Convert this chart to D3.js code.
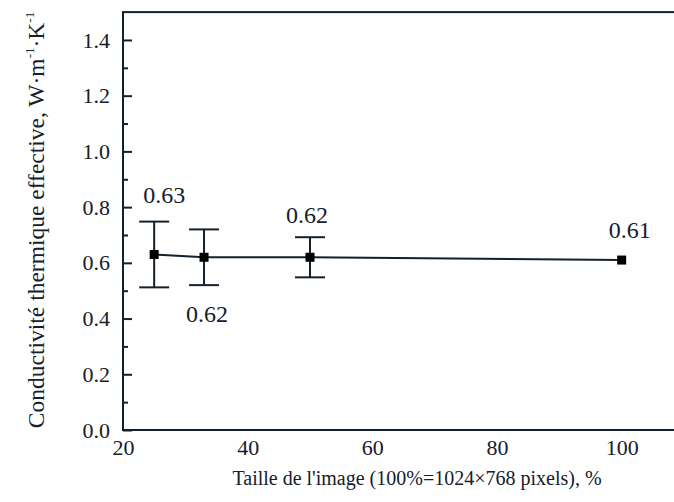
<!DOCTYPE html>
<html>
<head>
<meta charset="utf-8">
<script src="https://cdn.jsdelivr.net/npm/d3@7"></script>
<style>
  html, body { margin: 0; padding: 0; background: #fff; }
  svg { display: block; }
</style>
</head>
<body>
<svg id="chart" width="674" height="502"></svg>
<script>
// Image size (% of 1024×768) and effective thermal conductivity
const sizes = [25, 33, 50, 100];
const conductivity = [0.63, 0.62, 0.62, 0.61];
const errors = [0.118, 0.10, 0.072, 0];
const valueLabels = ["0.63", "0.62", "0.62", "0.61"];
const xTicks = [20, 40, 60, 80, 100];
const yTicks = [0, 0.2, 0.4, 0.6, 0.8, 1.0, 1.2, 1.4];
const yMinorTicks = [0.1, 0.3, 0.5, 0.7, 0.9, 1.1, 1.3];

const ink = "#14202b";
const serif = "'Liberation Serif', 'Times New Roman', serif";
const svg = d3.select("#chart");

const x = d3.scaleLinear().domain([20, 110]).range([123, 684]);
const y = d3.scaleLinear().domain([0, 1.5]).range([430, 12.1]);

// frame (right edge falls outside the canvas)
svg.append("rect")
  .attr("x", x(20)).attr("y", y(1.5))
  .attr("width", x(110) - x(20)).attr("height", y(0) - y(1.5))
  .attr("fill", "none").attr("stroke", ink).attr("stroke-width", 2);

// left axis, ticks pointing inward
const yAxis = svg.append("g").attr("transform", `translate(${x(20)},0)`)
  .call(d3.axisLeft(y).tickValues(yTicks).tickSize(-9).tickPadding(13)
    .tickFormat(d3.format(".1f")));
yAxis.select(".domain").remove();
yAxis.selectAll(".tick line").attr("stroke", ink).attr("stroke-width", 2);
yAxis.selectAll(".tick text")
  .style("font-family", serif).style("font-size", "22px").style("fill", ink);

const yMinor = svg.append("g").attr("transform", `translate(${x(20)},0)`)
  .call(d3.axisLeft(y).tickValues(yMinorTicks).tickSize(-5).tickFormat(""));
yMinor.select(".domain").remove();
yMinor.selectAll(".tick line").attr("stroke", ink).attr("stroke-width", 2);

// bottom axis labels
const xAxis = svg.append("g").attr("transform", `translate(0,${y(0)})`)
  .call(d3.axisBottom(x).tickValues(xTicks).tickSize(0).tickPadding(9)
    .tickFormat(d3.format("d")));
xAxis.select(".domain").remove();
xAxis.selectAll(".tick text")
  .style("font-family", serif).style("font-size", "22px").style("fill", ink);

// connecting line
const pts = sizes.map((s, i) => [s, conductivity[i]]);
svg.append("path")
  .datum(pts)
  .attr("d", d3.line().x(d => x(d[0])).y(d => y(d[1])))
  .attr("fill", "none").attr("stroke", ink).attr("stroke-width", 2);

// error bars
const cap = 15;
sizes.forEach((s, i) => {
  if (errors[i] <= 0) return;
  const g = svg.append("g").attr("stroke", ink).attr("stroke-width", 2);
  const cx = x(s), top = y(conductivity[i] + errors[i]), bot = y(conductivity[i] - errors[i]);
  g.append("line").attr("x1", cx).attr("x2", cx).attr("y1", top).attr("y2", bot);
  g.append("line").attr("x1", cx - cap).attr("x2", cx + cap).attr("y1", top).attr("y2", top);
  g.append("line").attr("x1", cx - cap).attr("x2", cx + cap).attr("y1", bot).attr("y2", bot);
});

// square markers
svg.selectAll("rect.pt").data(pts).enter().append("rect")
  .attr("class", "pt")
  .attr("x", d => x(d[0]) - 4.5).attr("y", d => y(d[1]) - 4.5)
  .attr("width", 9).attr("height", 9).attr("fill", "#000");

// value labels
const labelDx = [10, 3, -3, 8];
const labelDy = [-51, 65, -34, -22];
svg.selectAll("text.val").data(pts).enter().append("text")
  .attr("class", "val")
  .attr("x", (d, i) => x(d[0]) + labelDx[i])
  .attr("y", (d, i) => y(d[1]) + labelDy[i])
  .attr("text-anchor", "middle")
  .style("font-family", serif).style("font-size", "24px").style("fill", ink)
  .text((d, i) => valueLabels[i]);

// axis titles
svg.append("text")
  .attr("x", 417).attr("y", 485)
  .attr("text-anchor", "middle")
  .style("font-family", serif).style("font-size", "20px").style("fill", ink)
  .text("Taille de l'image (100%=1024×768 pixels), %");

const yt = svg.append("text")
  .attr("transform", "translate(44,220) rotate(-90)")
  .attr("text-anchor", "middle")
  .style("font-family", serif).style("font-size", "23.5px").style("fill", ink);
yt.append("tspan").text("Conductivité thermique effective, W·m");
yt.append("tspan").attr("dy", -10).style("font-size", "13px").text("-1");
yt.append("tspan").attr("dy", 10).text("·K");
yt.append("tspan").attr("dy", -10).style("font-size", "13px").text("-1");
</script>
</body>
</html>
